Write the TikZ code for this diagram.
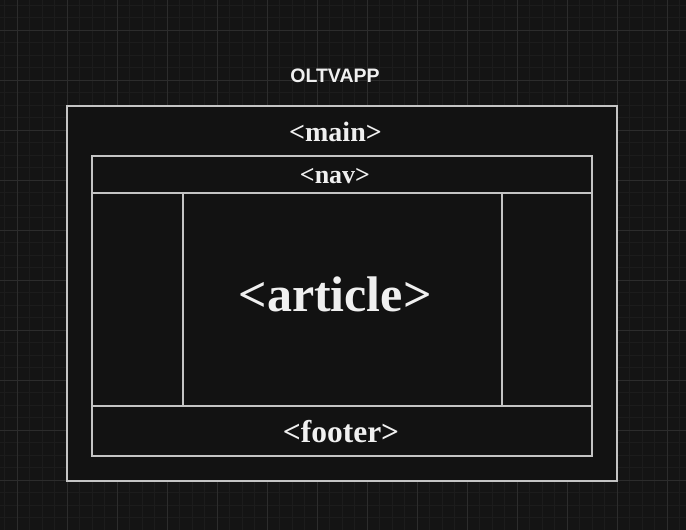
\documentclass[tikz,border=0pt]{standalone}
\usepackage{fontspec}
\setmainfont{Liberation Serif}
\newfontfamily\labelfont{Liberation Sans}
\usetikzlibrary{positioning}
\definecolor{background}{HTML}{141414}
\definecolor{boxFill}{HTML}{121212}
\definecolor{gridMinor}{HTML}{1C1C1C}
\definecolor{gridMajor}{HTML}{2C2C2C}
\definecolor{penColor}{HTML}{C4C4C4}
\definecolor{textColor}{HTML}{F0F0F0}
\tikzset{
	tag/.style={text=textColor,anchor=base,inner sep=0pt,font=\bfseries},
	frame/.style={draw=penColor,fill=boxFill}
}

\begin{document}
\begin{tikzpicture}[x=1pt,y=-1pt]
				\useasboundingbox (0,0) rectangle (686,530);
				\fill[background] (0,0) rectangle (686,530);
				% grid
				\foreach \x in {4.5,17,...,686} \draw[gridMinor,line width=1pt] (\x,0) -- (\x,530);
				\foreach \y in {5,17.5,...,530} \draw[gridMinor,line width=1pt] (0,\y) -- (686,\y);
				\foreach \x in {17,67,...,686} \draw[gridMajor,line width=1pt] (\x,0) -- (\x,530);
				\foreach \y in {30,80,...,530} \draw[gridMajor,line width=1pt] (0,\y) -- (686,\y);
				% boxes
				\draw[frame,line width=1.5pt] (67,106) rectangle (617,481);
				\draw[frame,line width=1.2pt] (92,156) rectangle (592,193);
				\draw[frame,line width=1.2pt] (92,193) rectangle (183,406);
				\draw[frame,line width=1.2pt] (183,193) rectangle (502,406);
				\draw[frame,line width=1.2pt] (502,193) rectangle (592,406);
				\draw[frame,line width=1.2pt] (92,406) rectangle (592,456);
				% labels
				\node [tag,font=\labelfont\bfseries\fontsize{19.5}{21}\selectfont] (title) at (335,82) {OLTVAPP};
				\node [tag,font=\bfseries\fontsize{28}{30}\selectfont] (mainTag) at (335.5,141) {<main>};
				\node [tag,font=\bfseries\fontsize{26}{28}\selectfont] (navTag) at (335,183) {<nav>};
				\node [tag,font=\bfseries\fontsize{50}{52}\selectfont] (articleTag) at (335,311) {<article>};
				\node [tag,font=\bfseries\fontsize{31.5}{33}\selectfont] (footerTag) at (341,442) {<footer>};
\end{tikzpicture}
\end{document}
